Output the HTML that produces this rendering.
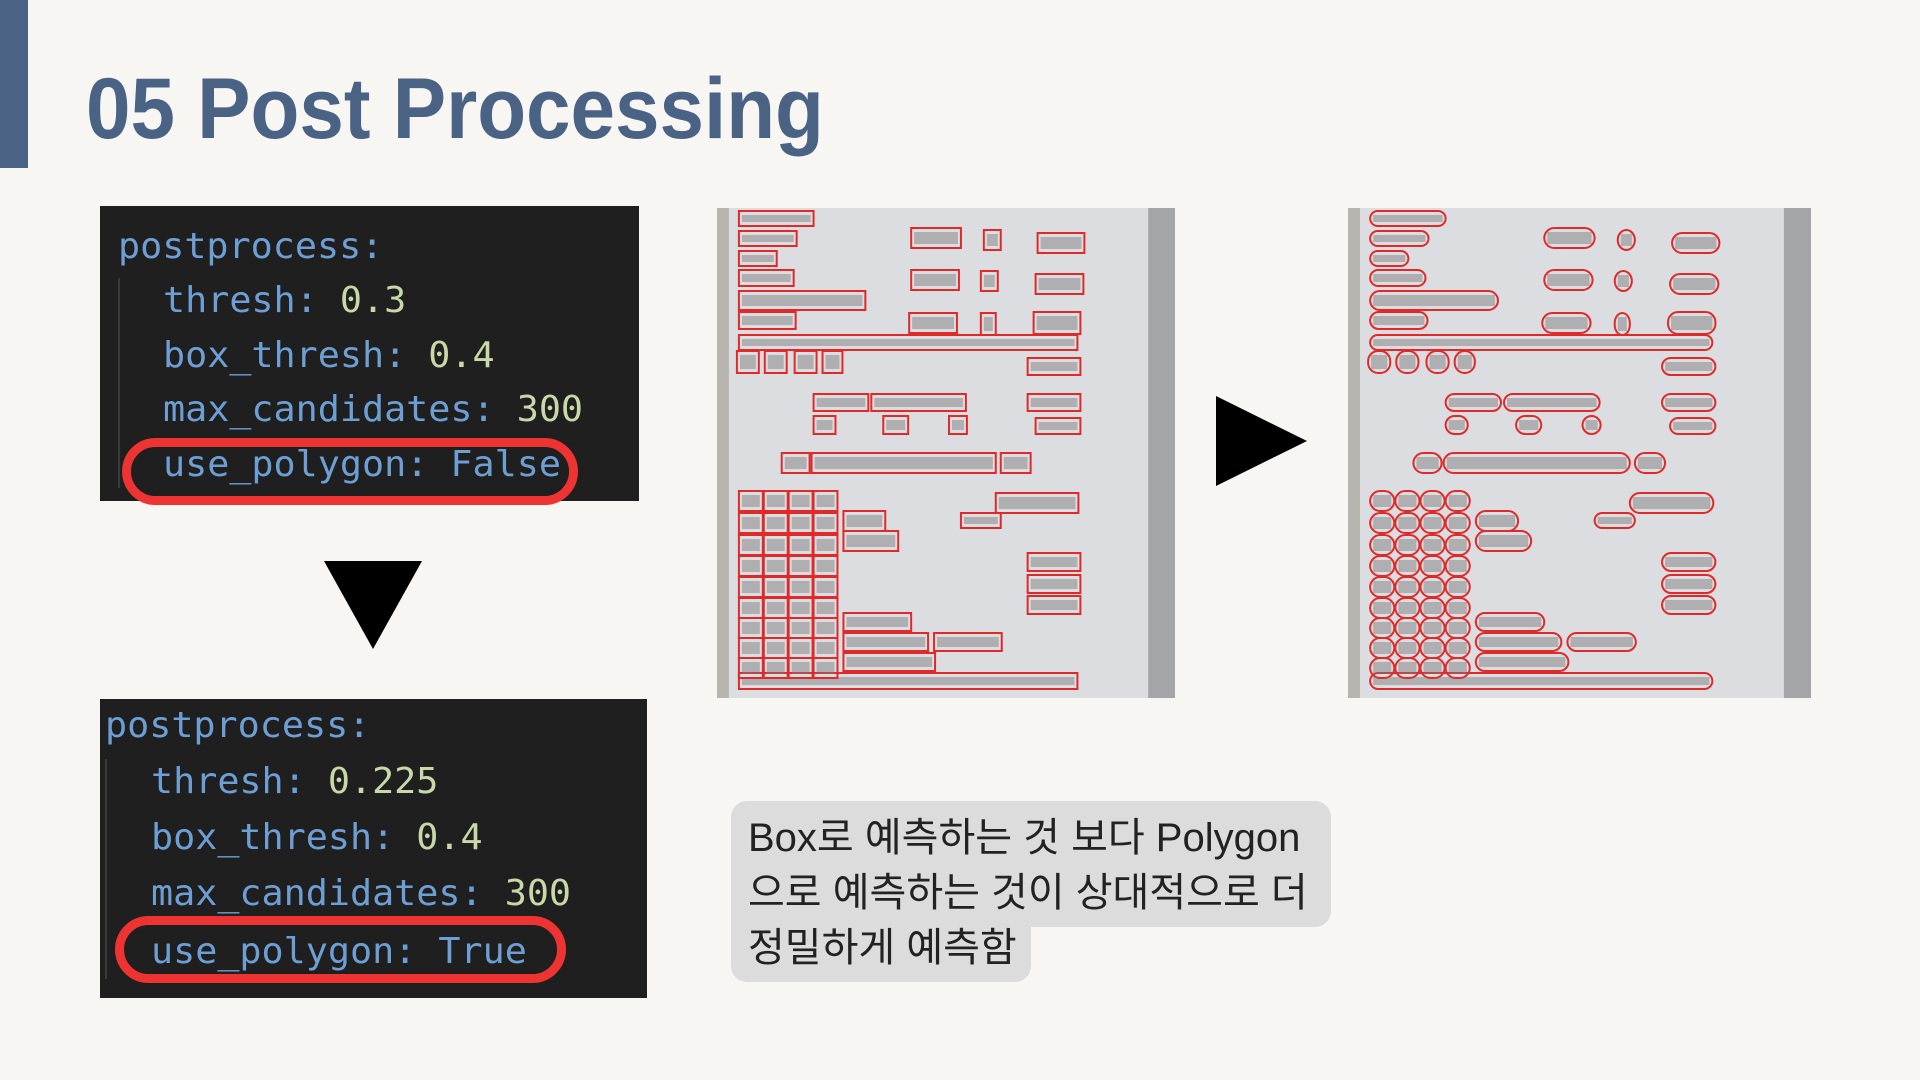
<!DOCTYPE html>
<html><head><meta charset="utf-8">
<style>
html,body{margin:0;padding:0}
body{width:1920px;height:1080px;background:#f7f6f3;position:relative;overflow:hidden;font-family:"Liberation Sans","Noto Sans CJK KR",sans-serif}
.bar{position:absolute;left:0;top:0;width:28px;height:168px;background:#4a6284}
.title{position:absolute;left:86px;top:60px;font-size:86px;font-weight:bold;color:#4a6284;white-space:nowrap;transform:scaleX(0.93);transform-origin:left}
.code{position:absolute;background:#1f1f1f;font-family:"DejaVu Sans Mono","Liberation Mono",monospace;font-size:36px;color:#6d9fd4}
.code div{position:absolute;white-space:nowrap;transform:scaleX(1.02);transform-origin:left}
.n{color:#c7d9a8}
.guide{position:absolute;width:2px;background:#3a3a3a}
.oval{position:absolute;border:9px solid #ee3333;border-radius:40px;box-sizing:border-box}
.tri{position:absolute;width:0;height:0}
.bubble{position:absolute;background:#dcdcdc;color:#222;font-size:40px;line-height:55px}
.img{position:absolute;overflow:hidden;background:#d9dadc}
</style></head><body>
<div class="bar"></div>
<div class="title">05 Post Processing</div>

<div class="code" style="left:100px;top:206px;width:539px;height:295px">
  <div class="guide" style="left:18px;top:72px;height:210px"></div>
  <div style="left:18px;top:20px">postprocess:</div>
  <div style="left:63px;top:74px">thresh: <span class="n">0.3</span></div>
  <div style="left:63px;top:129px">box_thresh: <span class="n">0.4</span></div>
  <div style="left:63px;top:183px">max_candidates: <span class="n">300</span></div>
  <div style="left:63px;top:238px">use_polygon: False</div>
</div>
<div class="oval" style="left:122px;top:438px;width:456px;height:67px"></div>

<div class="tri" style="left:324px;top:561px;border-left:49px solid transparent;border-right:49px solid transparent;border-top:88px solid #000"></div>

<div class="code" style="left:100px;top:699px;width:547px;height:299px">
  <div class="guide" style="left:5px;top:60px;height:220px"></div>
  <div style="left:5px;top:6px">postprocess:</div>
  <div style="left:51px;top:62px">thresh: <span class="n">0.225</span></div>
  <div style="left:51px;top:118px">box_thresh: <span class="n">0.4</span></div>
  <div style="left:51px;top:174px">max_candidates: <span class="n">300</span></div>
  <div style="left:51px;top:232px">use_polygon: True</div>
</div>
<div class="oval" style="left:115px;top:916px;width:451px;height:67px"></div>

<div class="img" id="im1" style="left:717px;top:208px;width:458px;height:490px"></div>
<div class="tri" style="left:1216px;top:396px;border-top:45px solid transparent;border-bottom:45px solid transparent;border-left:91px solid #000"></div>
<div class="img" id="im2" style="left:1348px;top:208px;width:463px;height:490px"></div>

<div class="bubble" style="left:731px;top:801px;width:600px;height:126px;border-radius:16px 16px 16px 0"></div>
<div class="bubble" style="left:731px;top:920px;width:300px;height:62px;border-radius:0 0 16px 16px"></div>
<div class="bubble" style="left:748px;top:811px;background:none;white-space:nowrap">Box로 예측하는 것 보다 Polygon<br>으로 예측하는 것이 상대적으로 더<br>정밀하게 예측함</div>

<script>
var B=[[22,3,75,15],[22,23,58,15],[195,20,50,20],[268,22,17,20],[322,25,47,20],[22,43,38,15],
[22,62,55,16],[195,62,48,20],[265,63,17,20],[320,66,48,20],[22,83,127,19],[22,104,57,17],[193,105,48,20],[265,105,15,22],[318,104,47,22],
[22,127,340,15],[20,143,22,22],[48,143,22,22],[78,143,22,22],[106,143,20,22],[312,150,53,17],
[97,186,55,17],[155,186,95,17],[312,186,53,17],[97,208,22,18],[167,208,25,18],[233,208,18,18],[320,210,45,16],
[65,245,28,20],[95,245,185,20],[285,245,30,20],
[127,303,42,20],[127,323,55,20],[280,285,83,20],[245,305,40,15],[312,345,53,18],[312,367,53,18],[312,388,53,18],
[127,405,68,18],[218,425,68,18],[127,425,85,18],[127,445,92,18],[22,465,340,16]];
var rows=[283,305,327,348,369,390,410,430,450];
rows.forEach(function(y){[22,47,72,97].forEach(function(x){B.push([x,y,24,20]);});});
function make(id,round){
  var s='<svg width="100%" height="100%" viewBox="0 0 460 490" preserveAspectRatio="none">';
  s+='<rect x="0" y="0" width="12" height="490" fill="#b7b5ae"/>';
  s+='<rect x="433" y="0" width="27" height="490" fill="#a4a5a8"/>';
  s+='<rect x="12" y="0" width="421" height="490" fill="#dcdde0"/>';
  B.forEach(function(b){
    s+='<rect x="'+(b[0]+3)+'" y="'+(b[1]+4)+'" width="'+(b[2]-6)+'" height="'+(b[3]-8)+'" fill="#777" opacity="0.45"/>';
    s+='<rect x="'+b[0]+'" y="'+b[1]+'" width="'+b[2]+'" height="'+b[3]+'" rx="'+(round?Math.min(b[3]/2,10):0)+'" fill="none" stroke="#e02a2a" stroke-width="2"/>';
  });
  s+='</svg>';
  document.getElementById(id).innerHTML=s;
}
make('im1',false);make('im2',true);
</script>
</body></html>
